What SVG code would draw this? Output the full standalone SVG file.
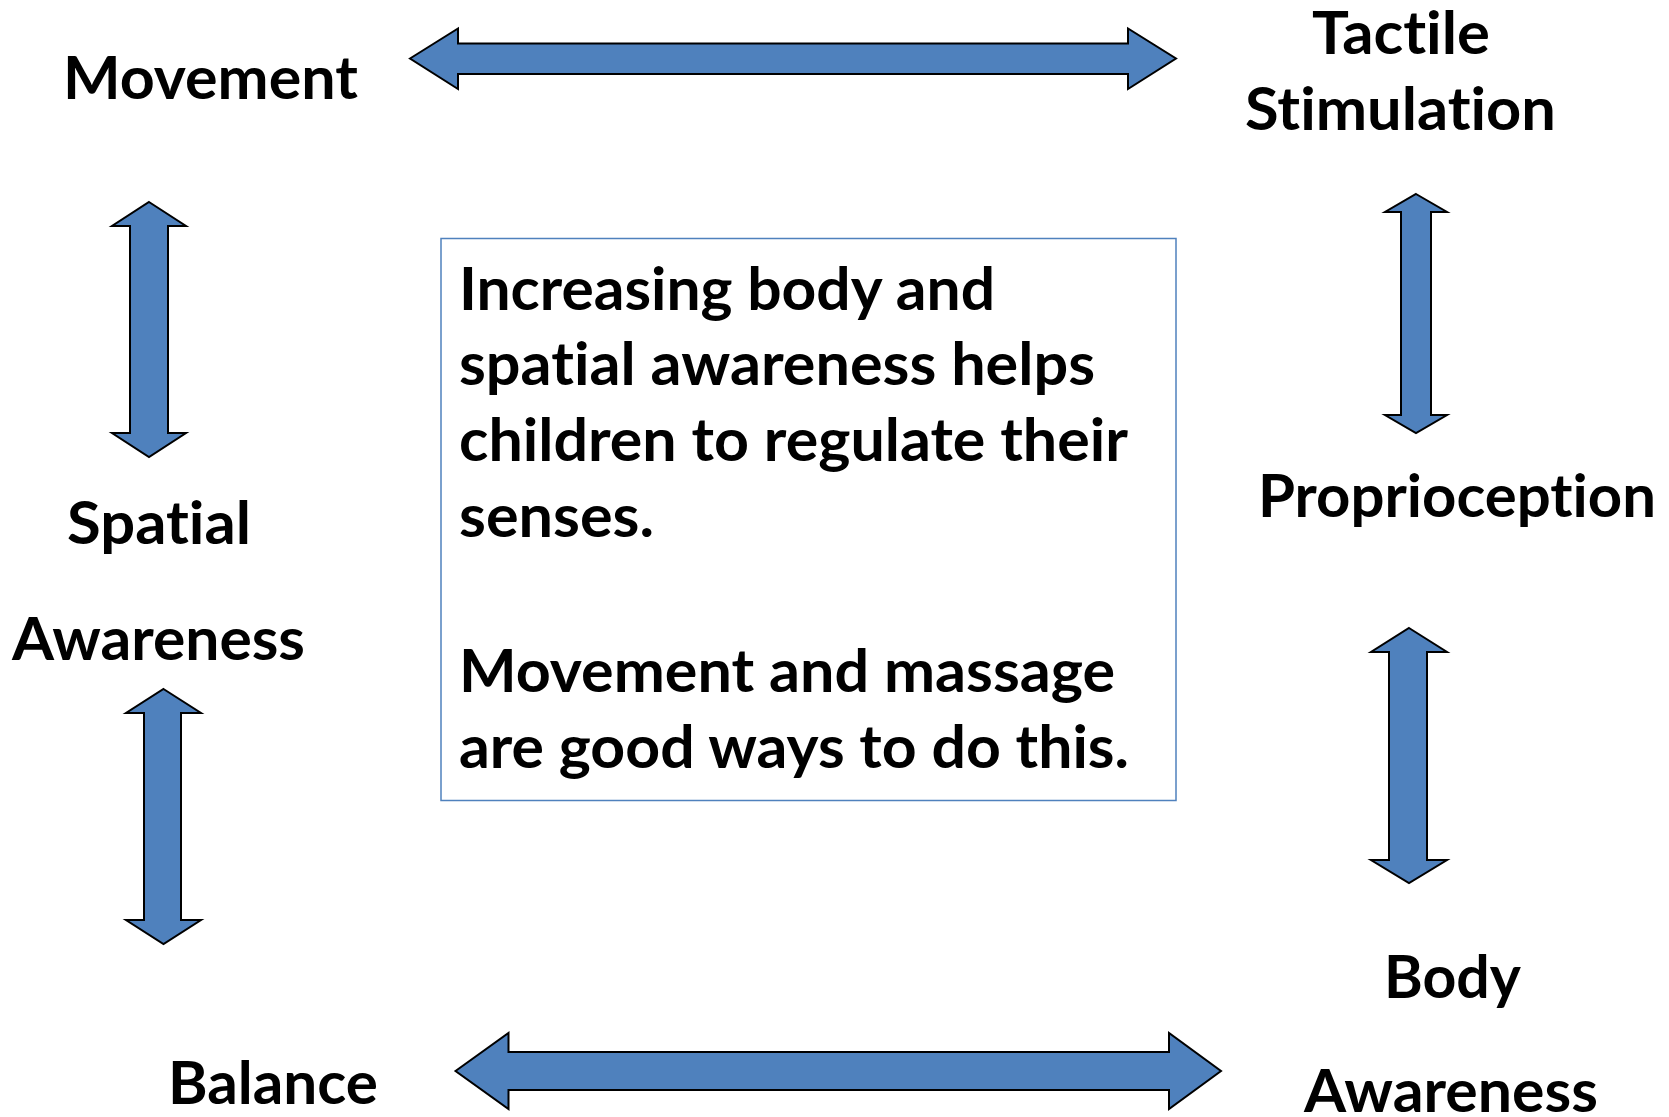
<svg xmlns="http://www.w3.org/2000/svg" width="1669" height="1117" viewBox="0 0 1669 1117">
<style>
.t{font-family:"Lato","Carlito","Liberation Sans",sans-serif;font-weight:700;font-size:60px;fill:#000;font-variant-ligatures:none;font-feature-settings:"liga" 0,"clig" 0}
.arr{fill:#4f81bd;stroke:#000;stroke-width:2;stroke-linejoin:miter}
.box{fill:#fff;stroke:#4f81bd;stroke-width:1.5}
</style>
<rect width="1669" height="1117" fill="#fff"/>
<g id="connectors">
<polygon class="arr" points="410,58.5 458,28.5 458,43.5 1128,43.5 1128,28.5 1176,58.5 1128,89 1128,74 458,74 458,89"/>
<polygon class="arr" points="149,202 186,226 168,226 168,433 186,433 149,457 112,433 130,433 130,226 112,226"/>
<polygon class="arr" points="1416,194 1447,212 1431,212 1431,415 1447,415 1416,433 1385,415 1401,415 1401,212 1385,212"/>
<polygon class="arr" points="163.5,689 201,713 181,713 181,920 201,920 163.5,944 126,920 144,920 144,713 126,713"/>
<polygon class="arr" points="1409,628 1447,652 1427,652 1427,860 1447,860 1409,883 1371,860 1389,860 1389,652 1371,652"/>
<polygon class="arr" points="455.5,1071 508.5,1033 508.5,1052 1169,1052 1169,1033 1221,1071 1169,1109 1169,1090 508.5,1090 508.5,1109"/>
</g>
<g id="movement"><text class="t" x="63" y="99" textLength="295" lengthAdjust="spacingAndGlyphs">Movement</text></g>
<g id="tactile"><text class="t" x="1312" y="54" textLength="178" lengthAdjust="spacingAndGlyphs">Tactile</text><text class="t" x="1245" y="130" textLength="311" lengthAdjust="spacingAndGlyphs">Stimulation</text></g>
<g id="spatial"><text class="t" x="67" y="544" textLength="184" lengthAdjust="spacingAndGlyphs">Spatial</text><text class="t" x="12" y="660" textLength="293" lengthAdjust="spacingAndGlyphs">Awareness</text></g>
<g id="proprioception"><text class="t" x="1258" y="517" textLength="398" lengthAdjust="spacingAndGlyphs">Proprioception</text></g>
<g id="body"><text class="t" x="1384" y="998" textLength="137" lengthAdjust="spacingAndGlyphs">Body</text><text class="t" x="1304" y="1112" textLength="294" lengthAdjust="spacingAndGlyphs">Awareness</text></g>
<g id="balance"><text class="t" x="168" y="1104" textLength="210" lengthAdjust="spacingAndGlyphs">Balance</text></g>
<g id="center">
<rect class="box" x="441" y="238.5" width="735" height="562"/>
<text class="t" x="459" y="310" textLength="536" lengthAdjust="spacingAndGlyphs">Increasing body and</text>
<text class="t" x="459" y="385" textLength="636" lengthAdjust="spacingAndGlyphs">spatial awareness helps</text>
<text class="t" x="459" y="461" textLength="669" lengthAdjust="spacingAndGlyphs">children to regulate their</text>
<text class="t" x="459" y="537" textLength="195" lengthAdjust="spacingAndGlyphs">senses.</text>
<text class="t" x="459" y="692" textLength="656" lengthAdjust="spacingAndGlyphs">Movement and massage</text>
<text class="t" x="459" y="768" textLength="670" lengthAdjust="spacingAndGlyphs">are good ways to do this.</text>
</g>
</svg>
